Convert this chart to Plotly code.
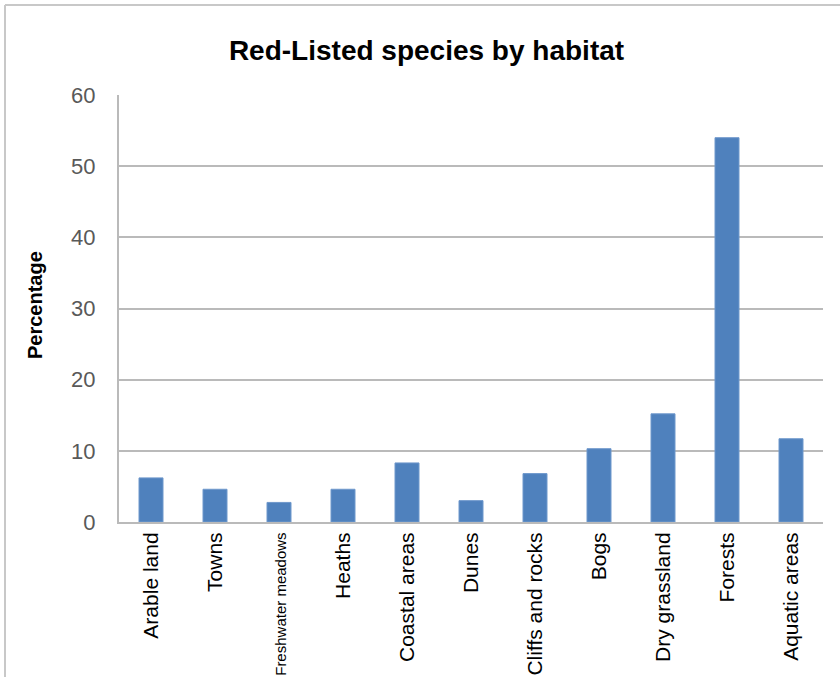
import plotly.graph_objects as go

categories = ["Arable land", "Towns", "Freshwater meadows", "Heaths", "Coastal areas",
              "Dunes", "Cliffs and rocks", "Bogs", "Dry grassland", "Forests", "Aquatic areas"]
values = [6.2, 4.6, 2.75, 4.6, 8.3, 3.0, 6.8, 10.3, 15.2, 54.0, 11.7]
y_ticks = [0, 10, 20, 30, 40, 50, 60]

tick_text = [f'<span style="font-size:15px">{c}</span>' if c == "Freshwater meadows" else c
             for c in categories]

W, H = 840, 677
L, R, T, B = 119, 17, 95, 155
pw, ph = W - L - R, H - T - B

def px_x(p):
    return (p - L) / pw

def px_y(p):
    return (H - B - p) / ph

fig = go.Figure(go.Bar(
    x=categories, y=values,
    marker=dict(color="#4F81BD", line=dict(color="#6F98CC", width=1)),
))

fig.update_layout(
    width=W, height=H,
    margin=dict(l=L, r=R, t=T, b=B, autoexpand=False),
    paper_bgcolor="white", plot_bgcolor="white",
    bargap=0.625,
    showlegend=False,
    font=dict(family="Liberation Sans, Arial, sans-serif"),
    title=dict(text="<b>Red-Listed species by habitat</b>",
               font=dict(size=28, color="#000000"),
               x=426.5 / W, xanchor="center", xref="container",
               y=1 - 50 / H, yanchor="middle", yref="container"),
    xaxis=dict(
        tickmode="array", tickvals=categories, ticktext=tick_text,
        tickangle=-90, tickfont=dict(size=21, color="#000000"),
        showline=True, linecolor="#BABABA", linewidth=2,
        showgrid=False, ticks="", ticklabelstandoff=0, automargin=False,
    ),
    yaxis=dict(
        range=[0, 60], tickvals=y_ticks,
        tickfont=dict(size=22, color="#595959"),
        showgrid=True, gridcolor="#BABABA", gridwidth=2,
        showline=True, linecolor="#BABABA", linewidth=2,
        zeroline=False, ticks="", ticklabelstandoff=17, automargin=False,
    ),
    annotations=[dict(
        text="<b>Percentage</b>", textangle=-90,
        xref="paper", yref="paper", x=px_x(35), y=px_y(305),
        xanchor="center", yanchor="middle", showarrow=False,
        font=dict(size=20, color="#000000"),
    )],
    shapes=[
        dict(type="line", xref="paper", yref="paper",
             x0=px_x(5), x1=px_x(5), y0=px_y(5), y1=px_y(700),
             line=dict(color="#C8C8C8", width=2)),
        dict(type="line", xref="paper", yref="paper",
             x0=px_x(5), x1=px_x(860), y0=px_y(5), y1=px_y(5),
             line=dict(color="#C8C8C8", width=2)),
    ],
)

fig.write_html("out.html", config={"displayModeBar": False},
               post_script="document.body.style.margin='0';document.body.style.overflow='hidden';")
